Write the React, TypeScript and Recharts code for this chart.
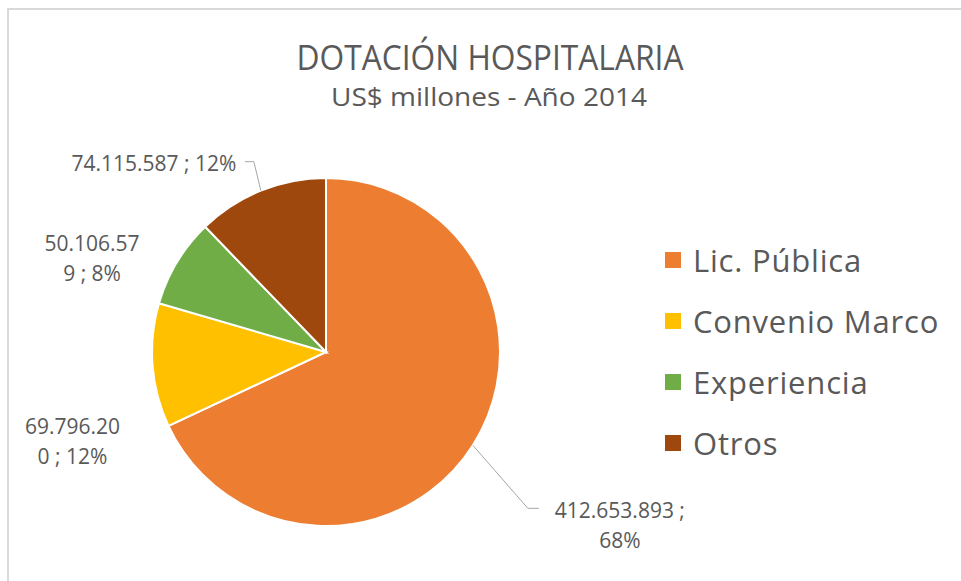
import React from 'react';
import { PieChart, Pie, Cell, Legend } from 'recharts';

const categories = ['Lic. Pública', 'Convenio Marco', 'Experiencia', 'Otros'];
const values = [412653893, 69796200, 50106579, 74115587];
const colors = ['#ED7D31', '#FFC000', '#70AD47', '#9E480E'];
const labelBreaks = [13, 9, 9, 0];
const titleText = 'DOTACIÓN HOSPITALARIA';
const subtitleText = 'US$ millones - Año 2014';

const data = categories.map((name, i) => ({ name, value: values[i] }));

const TEXT = '#595959';
const FONT = '"Open Sans", sans-serif';
const RAD = Math.PI / 180;

// label placement relative to the slice's outer mid point
const labelPlacement = [
  { dx: 147, dy: 73, leader: [[55, 63], [66, 63]] },
  { dx: -80, dy: 69, leader: null },
  { dx: -85, dy: -11, leader: null },
  { dx: -107, dy: -20, leader: [[-7, -29], [-16, -29]] },
];

const fmt = (v: number) => String(v).replace(/\B(?=(\d{3})+(?!\d))/g, '.');

const renderLabel = (props: any) => {
  const { cx, cy, midAngle, outerRadius, percent, value, index } = props;
  const ex = cx + outerRadius * Math.cos(-midAngle * RAD);
  const ey = cy + outerRadius * Math.sin(-midAngle * RAD);
  const p = labelPlacement[index];
  const full = `${fmt(value)} ; ${Math.round(percent * 100)}%`;
  const br = labelBreaks[index];
  const lines = br > 0 ? [full.slice(0, br).trim(), full.slice(br).trim()] : [full];
  return (
    <g key={`lbl-${index}`}>
      {p.leader && (
        <polyline
          points={[[0, 0], ...p.leader].map(([x, y]) => `${ex + x},${ey + y}`).join(' ')}
          fill="none"
          stroke="#a6a6a6"
          strokeWidth={1}
        />
      )}
      <text
        x={ex + p.dx}
        y={ey + p.dy}
        textAnchor="middle"
        fill={TEXT}
        fontFamily={FONT}
        fontSize={21}
      >
        {lines.map((l, i) => (
          <tspan key={i} x={ex + p.dx} dy={i === 0 ? 0 : 30}>
            {l}
          </tspan>
        ))}
      </text>
    </g>
  );
};

const LegendContent = () => (
  <div style={{ fontFamily: FONT, color: TEXT }}>
    {categories.map((c, i) => (
      <div key={c} style={{ display: 'flex', alignItems: 'center', height: 61, fontSize: 31, letterSpacing: 0.8, whiteSpace: 'nowrap' }}>
        <span style={{ display: 'inline-block', width: 16, height: 16, background: colors[i], marginRight: 12, flexShrink: 0 }} />
        <span>{c}</span>
      </div>
    ))}
  </div>
);

export default function App() {
  return (
    <div style={{ position: 'absolute', left: 0, top: 0, width: 961, height: 581, background: '#fff', overflow: 'hidden' }}>
      <div
        style={{
          position: 'absolute',
          left: 7,
          top: 8,
          width: 980,
          height: 600,
          borderLeft: '2px solid #d9d9d9',
          borderTop: '2px solid #d9d9d9',
        }}
      />
      <svg width={961} height={130} style={{ position: 'absolute', left: 0, top: 0 }}>
        <text x={490} y={70} textAnchor="middle" fill={TEXT} fontFamily={FONT} fontSize={34} textLength={387} lengthAdjust="spacingAndGlyphs">
          {titleText}
        </text>
        <text x={489} y={106} textAnchor="middle" fill={TEXT} fontFamily={FONT} fontSize={26} textLength={316} lengthAdjust="spacingAndGlyphs">
          {subtitleText}
        </text>
      </svg>
      <div style={{ position: 'absolute', left: 0, top: 0 }}>
        <PieChart width={961} height={581} margin={{ top: 0, right: 0, bottom: 0, left: 0 }}>
          <Pie
            data={data}
            dataKey="value"
            nameKey="name"
            cx={326}
            cy={352}
            outerRadius={174}
            startAngle={90}
            endAngle={-270}
            stroke="#ffffff"
            strokeWidth={2}
            label={renderLabel}
            labelLine={false}
            isAnimationActive={false}
          >
            {data.map((d, i) => (
              <Cell key={d.name} fill={colors[i]} />
            ))}
          </Pie>
          <Legend
            content={LegendContent}
            wrapperStyle={{ position: 'absolute', left: 665, top: 229, width: 290 }}
          />
        </PieChart>
      </div>
    </div>
  );
}
